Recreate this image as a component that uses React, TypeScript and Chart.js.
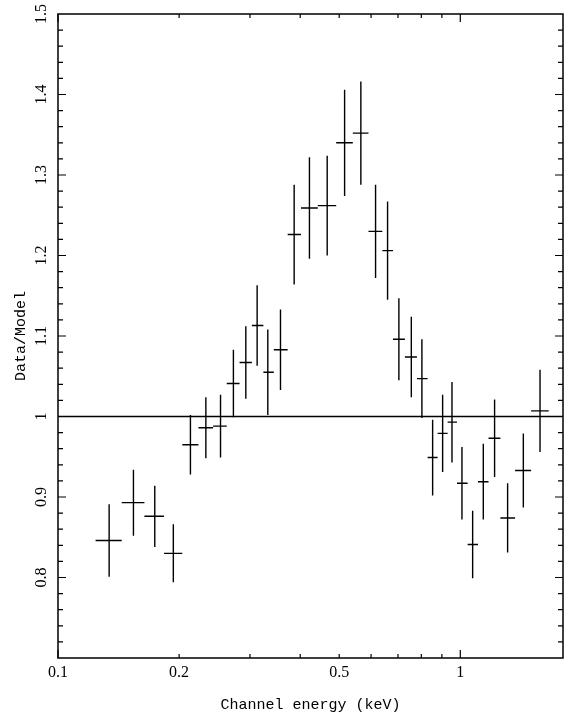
import React, { useEffect, useRef } from "react";
import { Chart, registerables } from "chart.js";

Chart.register(...registerables);

// Channel energy bins (keV): centre, lower edge, upper edge
const energy = [0.134, 0.154, 0.174, 0.1935, 0.2134, 0.2331, 0.2535, 0.2729, 0.293, 0.3126, 0.3323, 0.3573, 0.3864, 0.4217, 0.4668, 0.5157, 0.566, 0.6157, 0.6595, 0.7036, 0.7555, 0.8027, 0.8535, 0.9038, 0.9535, 1.0095, 1.0732, 1.1407, 1.2168, 1.311, 1.4344, 1.5782];
const energyLow = [0.124, 0.144, 0.164, 0.1835, 0.2037, 0.2234, 0.2429, 0.2627, 0.2827, 0.3033, 0.324, 0.3439, 0.3723, 0.4018, 0.4423, 0.4915, 0.5405, 0.5912, 0.64, 0.6801, 0.7283, 0.7802, 0.8293, 0.8783, 0.9301, 0.9813, 1.0428, 1.1065, 1.1754, 1.2578, 1.3682, 1.4998];
const energyHigh = [0.144, 0.164, 0.1835, 0.2037, 0.2234, 0.2429, 0.2627, 0.2827, 0.3033, 0.324, 0.3439, 0.3723, 0.4018, 0.4423, 0.4915, 0.5405, 0.5912, 0.64, 0.6801, 0.7283, 0.7802, 0.8293, 0.8783, 0.9301, 0.9813, 1.0428, 1.1065, 1.1754, 1.2578, 1.3682, 1.4998, 1.6588];
// Data/Model ratio and 1-sigma error
const ratio = [0.846, 0.893, 0.876, 0.830, 0.965, 0.986, 0.988, 1.041, 1.067, 1.113, 1.055, 1.083, 1.226, 1.259, 1.262, 1.340, 1.352, 1.230, 1.206, 1.096, 1.074, 1.047, 0.949, 0.979, 0.993, 0.917, 0.841, 0.919, 0.973, 0.874, 0.933, 1.007];
const ratioErr = [0.045, 0.041, 0.038, 0.036, 0.037, 0.038, 0.039, 0.042, 0.045, 0.05, 0.053, 0.05, 0.062, 0.063, 0.062, 0.066, 0.064, 0.058, 0.061, 0.051, 0.05, 0.049, 0.047, 0.048, 0.05, 0.045, 0.042, 0.047, 0.048, 0.043, 0.046, 0.051];

// Axis ranges and ticks
const xMin = 0.1;
const xMax = 1.8;
const yMin = 0.7;
const yMax = 1.5;
const xTickValues = [0.1, 0.2, 0.3, 0.4, 0.5, 0.6, 0.7, 0.8, 0.9, 1];
const xMajorTicks = [0.1, 1];
const xLabelValues = [0.1, 0.2, 0.5, 1];
const xLabelTexts = ["0.1", "0.2", "0.5", "1"];
const yLabelValues = [0.8, 0.9, 1.0, 1.1, 1.2, 1.3, 1.4, 1.5];
const yLabelTexts = ["0.8", "0.9", "1", "1.1", "1.2", "1.3", "1.4", "1.5"];
const yMinorStep = 0.02;
const yMajorStep = 0.1;
const xTitle = "Channel energy (keV)";
const yTitle = "Data/Model";

const framePlugin = {
  id: "framePlugin",
  afterDatasetsDraw(chart: any) {
    const ctx = chart.ctx as CanvasRenderingContext2D;
    const xs = chart.scales.x;
    const ys = chart.scales.y;
    const a = chart.chartArea;
    ctx.save();
    ctx.strokeStyle = "#000";
    ctx.fillStyle = "#000";

    // error bars
    ctx.lineWidth = 1.4;
    ctx.beginPath();
    for (let i = 0; i < energy.length; i++) {
      const px = xs.getPixelForValue(energy[i]);
      const py = ys.getPixelForValue(ratio[i]);
      ctx.moveTo(xs.getPixelForValue(energyLow[i]), py);
      ctx.lineTo(xs.getPixelForValue(energyHigh[i]), py);
      ctx.moveTo(px, ys.getPixelForValue(ratio[i] - ratioErr[i]));
      ctx.lineTo(px, ys.getPixelForValue(ratio[i] + ratioErr[i]));
    }
    ctx.stroke();

    // frame
    ctx.lineWidth = 1.5;
    ctx.strokeRect(a.left, a.top, a.right - a.left, a.bottom - a.top);

    // y ticks (left and right)
    ctx.lineWidth = 1.2;
    ctx.beginPath();
    const nY = Math.round((yMax - yMin) / yMinorStep);
    for (let k = 1; k < nY; k++) {
      const v = yMin + k * yMinorStep;
      const py = ys.getPixelForValue(v);
      const isMajor = Math.abs(v / yMajorStep - Math.round(v / yMajorStep)) < 1e-6;
      const len = isMajor ? 8 : 5;
      ctx.moveTo(a.left, py);
      ctx.lineTo(a.left + len, py);
      ctx.moveTo(a.right, py);
      ctx.lineTo(a.right - len, py);
    }
    // x ticks (bottom and top)
    for (const v of xTickValues) {
      const px = xs.getPixelForValue(v);
      const len = xMajorTicks.includes(v) ? 8 : 4;
      ctx.moveTo(px, a.bottom);
      ctx.lineTo(px, a.bottom - len);
      ctx.moveTo(px, a.top);
      ctx.lineTo(px, a.top + len);
    }
    ctx.stroke();

    // x tick labels
    ctx.font = "16px 'Liberation Serif'";
    ctx.textAlign = "center";
    ctx.textBaseline = "middle";
    xLabelValues.forEach((v, i) => {
      ctx.fillText(xLabelTexts[i], xs.getPixelForValue(v), a.bottom + 15);
    });
    // y tick labels (rotated)
    yLabelValues.forEach((v, i) => {
      const py = ys.getPixelForValue(v);
      ctx.save();
      ctx.translate(a.left - 16, py);
      ctx.rotate(-Math.PI / 2);
      ctx.fillText(yLabelTexts[i], 0, 0);
      ctx.restore();
    });

    // axis titles
    ctx.font = "15px 'Liberation Mono'";
    ctx.fillText(xTitle, (a.left + a.right) / 2, a.bottom + 47);
    ctx.save();
    ctx.translate(a.left - 37, (a.top + a.bottom) / 2);
    ctx.rotate(-Math.PI / 2);
    ctx.fillText(yTitle, 0, 0);
    ctx.restore();

    ctx.restore();
  },
};

export default function App() {
  const canvasRef = useRef<HTMLCanvasElement | null>(null);

  useEffect(() => {
    document.body.style.margin = "0";
    const canvas = canvasRef.current;
    if (!canvas) return;
    const points = energy.map((e, i) => ({ x: e, y: ratio[i] }));
    const chart = new Chart(canvas, {
      type: "scatter",
      data: {
        datasets: [
          {
            data: points,
            pointRadius: 0,
            showLine: false,
          },
          {
            data: [
              { x: xMin, y: 1 },
              { x: xMax, y: 1 },
            ],
            showLine: true,
            pointRadius: 0,
            borderColor: "#000",
            borderWidth: 1.3,
          },
        ],
      },
      options: {
        animation: false,
        responsive: false,
        devicePixelRatio: 1,
        layout: { padding: { left: 58, right: 8, top: 14, bottom: 59 } },
        plugins: {
          legend: { display: false },
          tooltip: { enabled: false },
        },
        scales: {
          x: { type: "logarithmic", min: xMin, max: xMax, display: false },
          y: { type: "linear", min: yMin, max: yMax, display: false },
        },
      },
      plugins: [framePlugin],
    });
    return () => chart.destroy();
  }, []);

  return (
    <div style={{ width: 571, height: 717, background: "#fff" }}>
      <canvas ref={canvasRef} width={571} height={717} />
    </div>
  );
}
